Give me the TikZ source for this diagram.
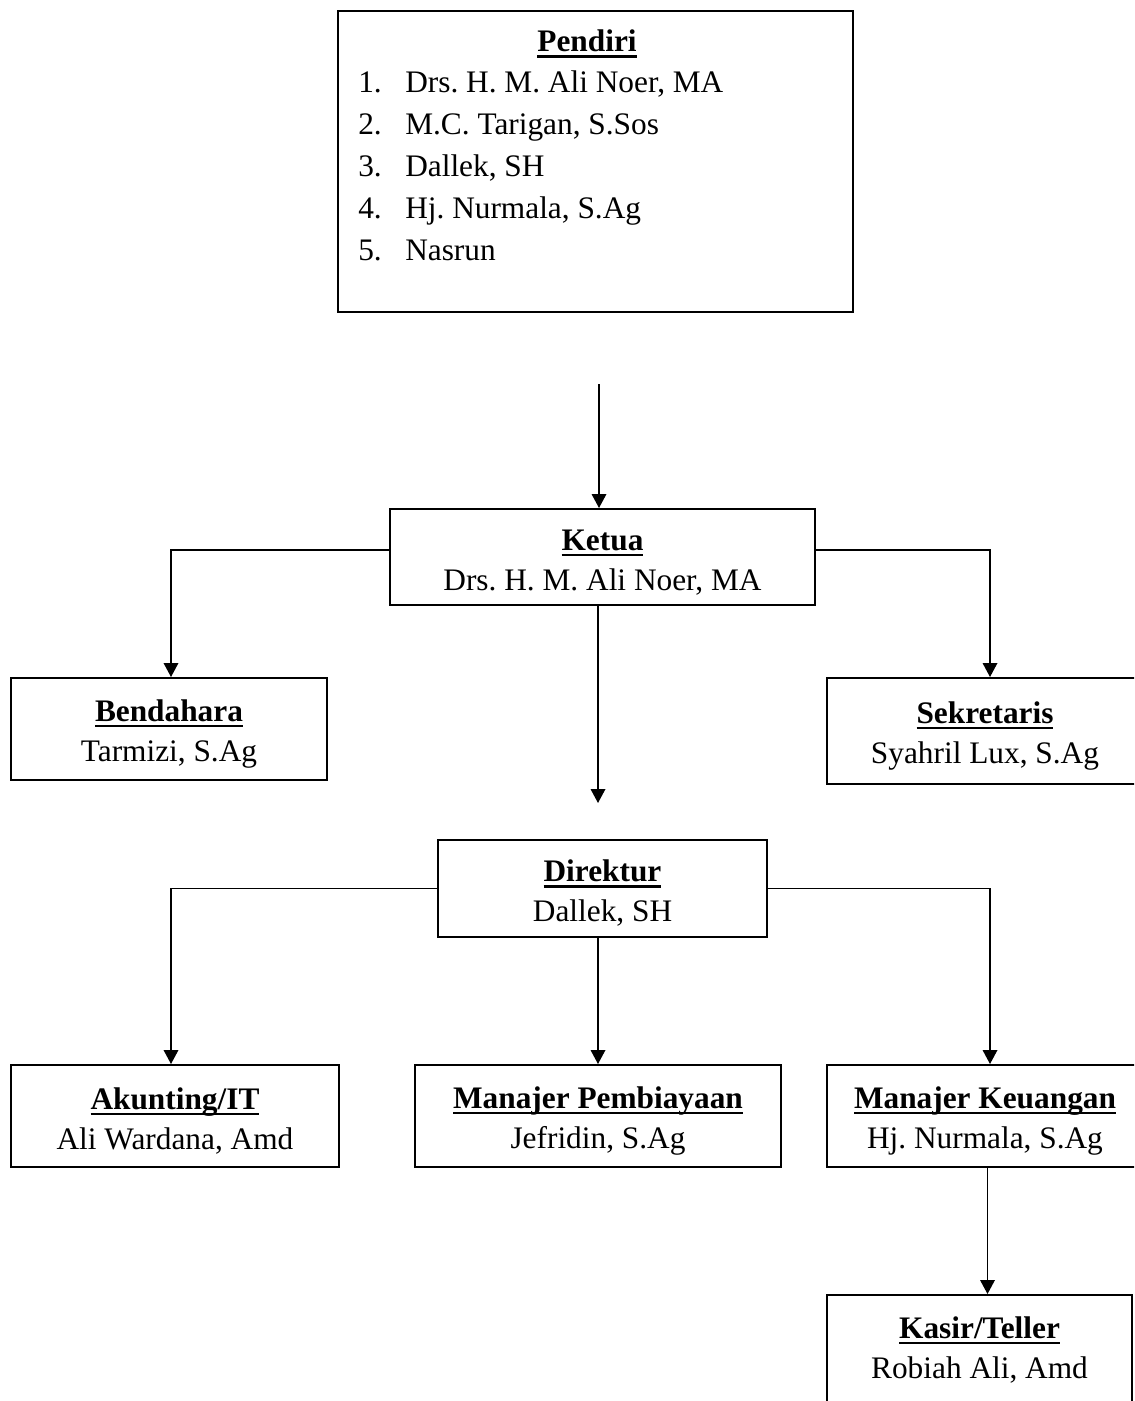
\documentclass[tikz,border=0pt]{standalone}
\usepackage{fontspec}
\setmainfont{Liberation Serif}
\usetikzlibrary{arrows.meta,calc}
\frenchspacing
\newcommand\hdr[1]{\setbox0\hbox{\bfseries #1}\rlap{\rule[-4.5pt]{\wd0}{2pt}}\box0}
\newcommand\hds[1]{\rule{0pt}{23.5pt}\hdr{#1}}
\begin{document}
\begin{tikzpicture}[x=0.75pt,y=-0.75pt,
  txt/.style={inner sep=0pt,font=\fontsize{23.5}{30}\selectfont},
  box/.style={draw,line width=1.5pt,inner sep=0pt,align=center,font=\fontsize{23.5}{30}\selectfont},
  arr/.style={line width=1pt,-{Triangle[width=11pt,length=10.5pt]}}]
\useasboundingbox (0,0) rectangle (1134,1401);
\clip (0,0) rectangle (1134,1401);
% Pendiri
\node[box,minimum width=386.25pt,minimum height=225.75pt] (pendiri) at (595.5,161.5) {};
\node[txt,anchor=base] (ptitle) at (587,52) {\hdr{Pendiri}};
\node[txt,anchor=base west] (p1) at (358,93) {\makebox[35.25pt][l]{1.}Drs. H. M. Ali Noer, MA};
\node[txt,anchor=base west] (p2) at (358,135) {\makebox[35.25pt][l]{2.}M.C. Tarigan, S.Sos};
\node[txt,anchor=base west] (p3) at (358,177) {\makebox[35.25pt][l]{3.}Dallek, SH};
\node[txt,anchor=base west] (p4) at (358,219) {\makebox[35.25pt][l]{4.}Hj. Nurmala, S.Ag};
\node[txt,anchor=base west] (p5) at (358,261) {\makebox[35.25pt][l]{5.}Nasrun};
% Ketua level
\node[box,minimum width=318.75pt,minimum height=72pt] (ketua) at (602.5,557) {\hds{Ketua}\\Drs. H. M. Ali Noer, MA};
\node[box,minimum width=237pt,minimum height=76.5pt] (bendahara) at (169,729) {\hds{Bendahara}\\Tarmizi, S.Ag};
\node[box,minimum width=237pt,minimum height=79.5pt] (sekretaris) at (985,731) {\hds{Sekretaris}\\Syahril Lux, S.Ag};
% Direktur level
\node[box,minimum width=246.75pt,minimum height=72.75pt] (direktur) at (602.5,888.5) {\hds{Direktur}\\Dallek, SH};
\node[box,minimum width=246pt,minimum height=76.5pt] (akunting) at (175,1116) {\hds{Akunting/IT}\\Ali Wardana, Amd};
\node[box,minimum width=274.5pt,minimum height=76.5pt] (pembiayaan) at (598,1116) {\hds{Manajer Pembiayaan}\\Jefridin, S.Ag};
\node[box,minimum width=237pt,minimum height=76.5pt] (keuangan) at (985,1116) {\hds{Manajer Keuangan}\\Hj. Nurmala, S.Ag};
\node[box,minimum width=228.75pt,minimum height=82.5pt] (kasir) at (979.5,1350) {\hdr{Kasir/Teller}\\Robiah Ali, Amd};
% connectors
\coordinate (a1) at (599,384);
\draw[arr] (a1) -- (a1 |- ketua.north);
\draw[arr] ([yshift=5.25pt]ketua.west) -| ([xshift=1.5pt]bendahara.north);
\draw[arr] ([yshift=5.25pt]ketua.east) -| ([xshift=3.75pt]sekretaris.north);
\coordinate (a2) at (598,803);
\draw[arr] (a2 |- ketua.south) -- (a2);
\draw[arr] (direktur.west) -| ([xshift=-3pt]akunting.north);
\draw[arr] (direktur.east) -| ([xshift=3.75pt]keuangan.north);
\draw[arr] (pembiayaan.north |- direktur.south) -- (pembiayaan.north);
\coordinate (k1) at ([xshift=6pt]kasir.north);
\draw[arr] (k1 |- keuangan.south) -- (k1);
\end{tikzpicture}
\end{document}
